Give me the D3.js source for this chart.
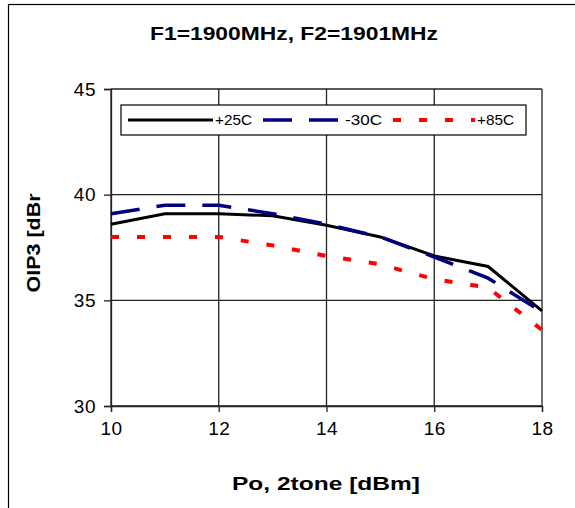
<!DOCTYPE html>
<html>
<head>
<meta charset="utf-8">
<script src="https://cdn.jsdelivr.net/npm/d3@7"></script>
<style>
  html, body { margin: 0; padding: 0; background: #fff; }
  svg { display: block; font-family: "Liberation Sans", Arial, sans-serif; }
</style>
</head>
<body>
<svg id="chart" width="575" height="508"></svg>
<script>
// ---- data ----
const xValues = [10, 11, 12, 13, 14, 15, 16, 17, 18];
const plus25 = [38.6, 39.1, 39.1, 39.0, 38.55, 38.0, 37.1, 36.6, 34.5];
const minus30 = [39.1, 39.5, 39.5, 39.1, 38.6, 38.0, 37.05, 36.05, 34.45];
const plus85 = [38.0, 38.0, 38.0, 37.6, 37.1, 36.7, 36.0, 35.6, 33.6];
const seriesNames = ["+25C", "-30C", "+85C"];
const xTicks = [10, 12, 14, 16, 18];
const yTicks = [30, 35, 40, 45];
const titleText = "F1=1900MHz, F2=1901MHz";
const xTitle = "Po, 2tone [dBm]";
const yTitle = "OIP3 [dBr";

// ---- layout ----
const svg = d3.select("#chart");
const plotLeft = 111, plotRight = 542, plotTop = 89, plotBottom = 406;

const x = d3.scaleLinear().domain([10, 18]).range([plotLeft, plotRight]);
const y = d3.scaleLinear().domain([30, 45]).range([plotBottom, plotTop]);

// outer frame
svg.append("rect").attr("x", 8.5).attr("y", 4.5).attr("width", 700).attr("height", 700)
  .attr("fill", "none").attr("stroke", "#000").attr("stroke-width", 1.2);

// title
svg.append("text").attr("x", 294).attr("y", 40).attr("text-anchor", "middle")
  .attr("font-size", 18).attr("font-weight", "bold")
  .attr("textLength", 288).attr("lengthAdjust", "spacingAndGlyphs")
  .text(titleText);

// grid
const grid = svg.append("g").attr("stroke", "#222").attr("stroke-width", 1.3);
grid.selectAll("line.v").data(xTicks).join("line").attr("class", "v")
  .attr("x1", d => x(d)).attr("x2", d => x(d)).attr("y1", plotTop).attr("y2", plotBottom);
grid.selectAll("line.h").data(yTicks).join("line").attr("class", "h")
  .attr("x1", plotLeft).attr("x2", plotRight).attr("y1", d => y(d)).attr("y2", d => y(d));

// axes
const xAxis = svg.append("g").attr("transform", `translate(0,${plotBottom})`)
  .call(d3.axisBottom(x).tickValues(xTicks).tickFormat(d3.format("d")).tickSize(6).tickPadding(10));
const yAxis = svg.append("g").attr("transform", `translate(${plotLeft},0)`)
  .call(d3.axisLeft(y).tickValues(yTicks).tickFormat(d3.format("d")).tickSize(7).tickPadding(8));
[xAxis, yAxis].forEach(a => {
  a.select(".domain").attr("stroke", "#222").attr("stroke-width", 1.3);
  a.selectAll(".tick line").attr("stroke", "#222").attr("stroke-width", 1.3);
  a.selectAll(".tick text").attr("font-size", 19).attr("fill", "#000")
    .attr("font-family", "Liberation Sans, Arial, sans-serif").attr("letter-spacing", 0.5);
});

// lines
const makeLine = vals => d3.line().x((d, i) => x(xValues[i])).y(d => y(d))(vals);
const styles = [
  { vals: plus25, color: "#000000", width: 3, dash: null },
  { vals: minus30, color: "#000080", width: 3.5, dash: "29,17" },
  { vals: plus85, color: "#ff0000", width: 4, dash: "8,18" }
];
styles.forEach(s => {
  svg.append("path").attr("d", makeLine(s.vals)).attr("fill", "none")
    .attr("stroke", s.color).attr("stroke-width", s.width)
    .attr("stroke-dasharray", s.dash);
});

// legend
const lg = svg.append("g");
lg.append("rect").attr("x", 121).attr("y", 105).attr("width", 405).attr("height", 30)
  .attr("fill", "#fff").attr("stroke", "#000").attr("stroke-width", 1.2);
const legendItems = [
  { x1: 128, x2: 213, tx: 215, s: styles[0] },
  { x1: 263, x2: 340, tx: 345, s: styles[1] },
  { x1: 393, x2: 475, tx: 477, s: styles[2] }
];
legendItems.forEach((it, i) => {
  lg.append("line").attr("x1", it.x1).attr("x2", it.x2).attr("y1", 120).attr("y2", 120)
    .attr("stroke", it.s.color).attr("stroke-width", it.s.width).attr("stroke-dasharray", it.s.dash);
  lg.append("text").attr("x", it.tx).attr("y", 125).attr("font-size", 14.5)
    .attr("textLength", 37).attr("lengthAdjust", "spacingAndGlyphs")
    .text(seriesNames[i]);
});

// axis titles
svg.append("text").attr("x", 326).attr("y", 490).attr("text-anchor", "middle")
  .attr("font-size", 18.5).attr("font-weight", "bold")
  .attr("textLength", 188).attr("lengthAdjust", "spacingAndGlyphs")
  .text(xTitle);
svg.append("text").attr("transform", "translate(40,243) rotate(-90)").attr("text-anchor", "middle")
  .attr("font-size", 18.5).attr("font-weight", "bold")
  .attr("textLength", 99).attr("lengthAdjust", "spacingAndGlyphs")
  .text(yTitle);
</script>
</body>
</html>
